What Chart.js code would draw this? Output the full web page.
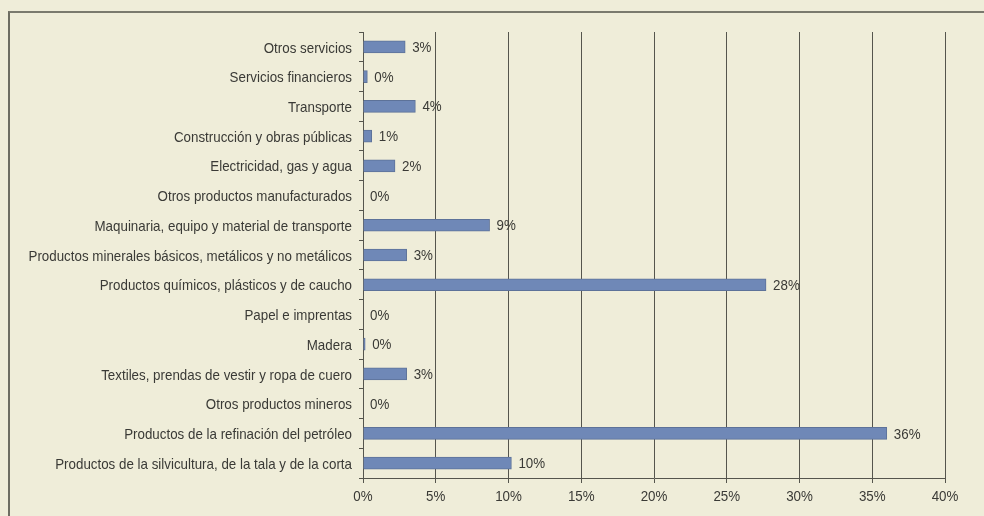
<!DOCTYPE html>
<html>
<head>
<meta charset="utf-8">
<script src="https://cdn.jsdelivr.net/npm/chart.js@4"></script>
<style>
  html, body { margin: 0; padding: 0; background: #efedd9; }
  #wrap { position: relative; width: 984px; height: 516px; overflow: hidden; }
  #frame { position: absolute; left: 8px; top: 11px; width: 1000px; height: 600px;
           border-left: 2px solid #6d6d62; border-top: 2px solid #7a7a6e; }
  canvas { position: absolute; left: 0; top: 0; }
</style>
</head>
<body>
<div id="wrap">
  <div id="frame"></div>
  <canvas id="grafico" width="984" height="516"></canvas>
</div>
<script>
let ctx = document.getElementById('grafico')

// categorías de arriba a abajo
const categorias = [
  'Otros servicios',
  'Servicios financieros',
  'Transporte',
  'Construcción y obras públicas',
  'Electricidad, gas y agua',
  'Otros productos manufacturados',
  'Maquinaria, equipo y material de transporte',
  'Productos minerales básicos, metálicos y no metálicos',
  'Productos químicos, plásticos y de caucho',
  'Papel e imprentas',
  'Madera',
  'Textiles, prendas de vestir y ropa de cuero',
  'Otros productos mineros',
  'Productos de la refinación del petróleo',
  'Productos de la silvicultura, de la tala y de la corta'
]

// porcentajes
const valores = [2.9, 0.3, 3.6, 0.6, 2.2, 0, 8.7, 3.0, 27.7, 0, 0.15, 3.0, 0, 36.0, 10.2]

const ticksX = [0, 5, 10, 15, 20, 25, 30, 35, 40]

const fuente = "'Liberation Sans', Arial, sans-serif"
const colorTexto = '#3a3a36'
const estrecho = 0.89   // la fuente original es tipo Arial Narrow

// texto comprimido en horizontal
function texto(c, s, x, y, align) {
  c.save()
  c.translate(x, y)
  c.scale(estrecho, 1)
  c.textAlign = align
  c.fillText(s, 0, 0)
  c.restore()
}

// rótulos de categorías, ticks del eje x y valores al final de cada barra
const rotulos = {
  id: 'rotulos',
  afterDraw(chart) {
    const c = chart.ctx
    const meta = chart.getDatasetMeta(0)
    const sx = chart.scales.x
    const sy = chart.scales.y
    c.save()
    c.font = '15px ' + fuente
    c.fillStyle = colorTexto
    c.textBaseline = 'middle'
    meta.data.forEach((bar, i) => {
      texto(c, Math.round(valores[i]) + '%', bar.x + 7, bar.y + 1, 'left')
      texto(c, categorias[i], sy.right - 11, bar.y + 1.5, 'right')
    })
    ticksX.forEach(v => {
      texto(c, v + '%', sx.getPixelForValue(v), sx.top + 19, 'center')
    })
    c.restore()
  }
}

const graph = new Chart(ctx, {
  type: 'bar',
  data: {
    labels: categorias,
    datasets: [{
      data: valores,
      backgroundColor: '#6f88b7',
      borderColor: '#5d7299',
      borderWidth: 1,
      borderSkipped: 'left',
      barThickness: 12
    }]
  },
  options: {
    indexAxis: 'y',
    responsive: false,
    animation: false,
    layout: { padding: { top: 32, right: 39, left: 0, bottom: 0 } },
    plugins: { legend: { display: false }, tooltip: { enabled: false } },
    scales: {
      x: {
        min: 0,
        max: 40,
        afterBuildTicks(axis) { axis.ticks = ticksX.map(v => ({ value: v })) },
        afterFit(axis) { axis.height = 38 },
        ticks: { display: false },
        grid: { color: '#55554d', lineWidth: 1, tickLength: 5 },
        border: { color: '#55554d', width: 1 }
      },
      y: {
        afterFit(axis) { axis.width = 363 },
        ticks: { display: false, autoSkip: false },
        grid: { drawOnChartArea: false, color: '#55554d', tickLength: 4, offset: true },
        border: { color: '#55554d', width: 1 }
      }
    }
  },
  plugins: [rotulos]
})
</script>
</body>
</html>
